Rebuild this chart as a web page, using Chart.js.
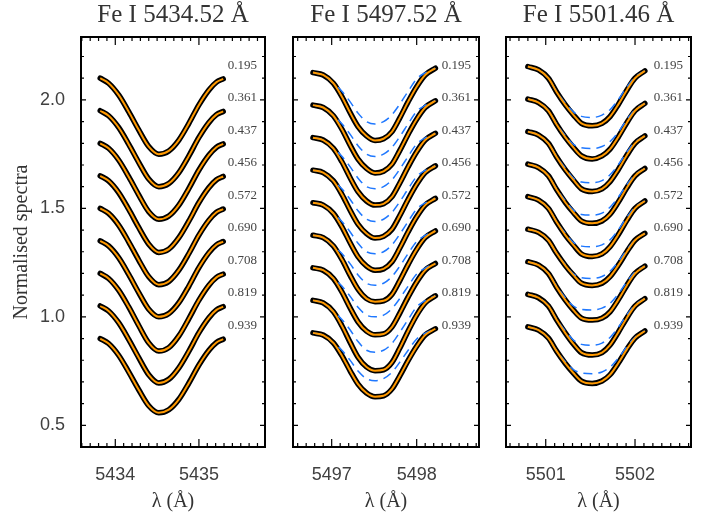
<!DOCTYPE html>
<html>
<head>
<meta charset="utf-8">
<script src="https://cdn.jsdelivr.net/npm/chart.js@4/dist/chart.umd.min.js"></script>
<style>
  body { margin: 0; background: #fff; }
  #wrap { position: relative; width: 711px; height: 517px; }
  #wrap canvas { position: absolute; left: 0; top: 0; }
</style>
</head>
<body>
<div id="wrap">
  <canvas id="p1" width="711" height="517"></canvas>
  <canvas id="p2" width="711" height="517"></canvas>
  <canvas id="p3" width="711" height="517"></canvas>
</div>
<script>
// labels of the nine spectra (top to bottom) and panel titles
const muLabels = ['0.195', '0.361', '0.437', '0.456', '0.572', '0.690', '0.708', '0.819', '0.939'];
const titles = ['Fe I 5434.52 Å', 'Fe I 5497.52 Å', 'Fe I 5501.46 Å'];

// Fe I 5434.52
const wave1 = [5433.82, 5433.92, 5434.04, 5434.16, 5434.28, 5434.40, 5434.52, 5434.64, 5434.76, 5434.88, 5435.00, 5435.12, 5435.21, 5435.29];
const fit1 = [
  [2.100, 2.077, 2.023, 1.946, 1.862, 1.785, 1.750, 1.765, 1.815, 1.892, 1.977, 2.046, 2.082, 2.097],
  [1.950, 1.927, 1.873, 1.796, 1.712, 1.635, 1.600, 1.615, 1.665, 1.742, 1.827, 1.896, 1.932, 1.947],
  [1.800, 1.777, 1.723, 1.646, 1.562, 1.485, 1.450, 1.465, 1.515, 1.592, 1.677, 1.746, 1.782, 1.797],
  [1.650, 1.627, 1.573, 1.496, 1.412, 1.335, 1.297, 1.312, 1.365, 1.442, 1.527, 1.596, 1.632, 1.647],
  [1.500, 1.477, 1.423, 1.346, 1.262, 1.185, 1.148, 1.163, 1.215, 1.292, 1.377, 1.446, 1.482, 1.497],
  [1.350, 1.327, 1.273, 1.196, 1.112, 1.035, 1.000, 1.015, 1.065, 1.142, 1.227, 1.296, 1.332, 1.347],
  [1.200, 1.177, 1.123, 1.046, 0.960, 0.880, 0.842, 0.858, 0.912, 0.992, 1.077, 1.146, 1.182, 1.197],
  [1.050, 1.027, 0.973, 0.896, 0.812, 0.733, 0.695, 0.712, 0.765, 0.842, 0.927, 0.996, 1.032, 1.047],
  [0.900, 0.877, 0.823, 0.746, 0.664, 0.590, 0.558, 0.572, 0.620, 0.695, 0.778, 0.846, 0.882, 0.897]
];

// Fe I 5497.52
const wave2 = [5496.78, 5496.90, 5497.02, 5497.12, 5497.22, 5497.31, 5497.41, 5497.51, 5497.61, 5497.71, 5497.80, 5497.90, 5498.00, 5498.10, 5498.22];
const fit2 = [
  [2.126, 2.115, 2.077, 2.015, 1.939, 1.877, 1.834, 1.813, 1.821, 1.854, 1.916, 1.992, 2.061, 2.115, 2.146],
  [1.976, 1.965, 1.927, 1.865, 1.789, 1.727, 1.684, 1.663, 1.671, 1.704, 1.766, 1.842, 1.911, 1.965, 1.996],
  [1.826, 1.815, 1.777, 1.715, 1.639, 1.577, 1.534, 1.515, 1.521, 1.554, 1.616, 1.692, 1.761, 1.815, 1.846],
  [1.676, 1.665, 1.627, 1.565, 1.489, 1.427, 1.384, 1.363, 1.371, 1.404, 1.466, 1.542, 1.611, 1.665, 1.696],
  [1.526, 1.515, 1.477, 1.415, 1.339, 1.277, 1.234, 1.215, 1.221, 1.254, 1.316, 1.392, 1.461, 1.515, 1.546],
  [1.376, 1.365, 1.327, 1.265, 1.189, 1.127, 1.084, 1.070, 1.074, 1.104, 1.166, 1.242, 1.311, 1.365, 1.396],
  [1.226, 1.215, 1.177, 1.115, 1.039, 0.977, 0.934, 0.917, 0.921, 0.954, 1.016, 1.092, 1.161, 1.215, 1.246],
  [1.076, 1.064, 1.024, 0.959, 0.880, 0.814, 0.769, 0.752, 0.756, 0.790, 0.855, 0.935, 1.008, 1.064, 1.097],
  [0.926, 0.916, 0.880, 0.821, 0.749, 0.690, 0.649, 0.632, 0.636, 0.668, 0.727, 0.799, 0.864, 0.916, 0.945]
];
const dash2 = [
  [2.126, 2.115, 2.077, 2.040, 1.990, 1.939, 1.900, 1.889, 1.900, 1.932, 1.980, 2.040, 2.097, 2.125, 2.146],
  [1.976, 1.965, 1.927, 1.890, 1.840, 1.789, 1.750, 1.739, 1.750, 1.782, 1.830, 1.890, 1.947, 1.975, 1.996],
  [1.826, 1.815, 1.777, 1.740, 1.690, 1.639, 1.600, 1.591, 1.600, 1.632, 1.680, 1.740, 1.797, 1.825, 1.846],
  [1.676, 1.665, 1.627, 1.590, 1.540, 1.489, 1.450, 1.439, 1.450, 1.482, 1.530, 1.590, 1.647, 1.675, 1.696],
  [1.526, 1.515, 1.477, 1.440, 1.390, 1.339, 1.300, 1.291, 1.300, 1.332, 1.380, 1.440, 1.497, 1.525, 1.546],
  [1.376, 1.365, 1.327, 1.292, 1.243, 1.193, 1.155, 1.146, 1.155, 1.186, 1.233, 1.292, 1.347, 1.375, 1.396],
  [1.226, 1.215, 1.177, 1.142, 1.093, 1.044, 1.008, 1.000, 1.008, 1.038, 1.084, 1.142, 1.197, 1.225, 1.246],
  [1.076, 1.064, 1.024, 0.988, 0.938, 0.886, 0.846, 0.837, 0.846, 0.878, 0.928, 0.988, 1.046, 1.075, 1.097],
  [0.926, 0.916, 0.880, 0.846, 0.798, 0.750, 0.715, 0.705, 0.715, 0.745, 0.790, 0.846, 0.898, 0.925, 0.945]
];

// Fe I 5501.46
const wave3 = [5500.80, 5500.92, 5501.03, 5501.12, 5501.22, 5501.31, 5501.40, 5501.52, 5501.63, 5501.72, 5501.81, 5501.91, 5502.00, 5502.11];
const fit3 = [
  [2.154, 2.138, 2.100, 2.038, 1.977, 1.931, 1.892, 1.881, 1.892, 1.923, 1.977, 2.046, 2.100, 2.134],
  [2.004, 1.988, 1.950, 1.888, 1.827, 1.781, 1.742, 1.728, 1.742, 1.773, 1.827, 1.896, 1.950, 1.984],
  [1.854, 1.838, 1.800, 1.738, 1.677, 1.631, 1.590, 1.578, 1.590, 1.623, 1.677, 1.746, 1.800, 1.834],
  [1.704, 1.688, 1.650, 1.588, 1.527, 1.481, 1.442, 1.431, 1.442, 1.473, 1.527, 1.596, 1.650, 1.684],
  [1.554, 1.538, 1.500, 1.438, 1.377, 1.331, 1.290, 1.278, 1.290, 1.323, 1.377, 1.446, 1.500, 1.534],
  [1.404, 1.389, 1.353, 1.294, 1.236, 1.192, 1.155, 1.145, 1.155, 1.185, 1.236, 1.301, 1.353, 1.385],
  [1.254, 1.238, 1.200, 1.138, 1.077, 1.031, 0.994, 0.985, 0.994, 1.023, 1.077, 1.146, 1.200, 1.234],
  [1.104, 1.088, 1.050, 0.988, 0.925, 0.875, 0.835, 0.824, 0.835, 0.870, 0.927, 0.996, 1.050, 1.084],
  [0.954, 0.939, 0.902, 0.843, 0.785, 0.741, 0.704, 0.693, 0.704, 0.733, 0.785, 0.851, 0.902, 0.935]
];
const dash3 = [
  [2.154, 2.138, 2.100, 2.040, 1.985, 1.945, 1.924, 1.919, 1.930, 1.955, 2.000, 2.060, 2.105, 2.134],
  [2.004, 1.988, 1.950, 1.890, 1.835, 1.795, 1.779, 1.776, 1.785, 1.808, 1.850, 1.910, 1.955, 1.984],
  [1.854, 1.838, 1.800, 1.740, 1.685, 1.640, 1.622, 1.618, 1.628, 1.655, 1.700, 1.760, 1.805, 1.834],
  [1.704, 1.688, 1.650, 1.590, 1.535, 1.492, 1.472, 1.469, 1.478, 1.505, 1.550, 1.610, 1.655, 1.684],
  [1.554, 1.538, 1.500, 1.440, 1.385, 1.343, 1.326, 1.323, 1.332, 1.355, 1.400, 1.460, 1.505, 1.534],
  [1.404, 1.389, 1.353, 1.295, 1.240, 1.198, 1.180, 1.177, 1.186, 1.210, 1.253, 1.310, 1.355, 1.385],
  [1.254, 1.238, 1.200, 1.142, 1.088, 1.050, 1.034, 1.031, 1.040, 1.062, 1.104, 1.162, 1.207, 1.234],
  [1.104, 1.088, 1.050, 0.990, 0.935, 0.893, 0.873, 0.869, 0.879, 0.905, 0.950, 1.010, 1.055, 1.084],
  [0.954, 0.939, 0.902, 0.845, 0.793, 0.757, 0.742, 0.738, 0.746, 0.768, 0.808, 0.863, 0.906, 0.935]
];

const SERIF = "'Liberation Serif', 'Times New Roman', serif";
const SANS = "'Liberation Sans', Arial, sans-serif";
const ORANGE = '#ff9900';
const BLUE = '#1f78ff';

const isWhole = v => Math.abs(v - Math.round(v)) < 1e-6;
const isHalf = v => Math.abs(v * 2 - Math.round(v * 2)) < 1e-6;

// tenth-step ticks, labelled only at majors
function tenthTicks(s) {
  const t = [];
  for (let k = Math.ceil(s.min * 10 - 1e-6); k <= Math.floor(s.max * 10 + 1e-6); k++) t.push({ value: k / 10 });
  s.ticks = t;
}

// frame, inward ticks on all four sides, and the mu labels
const frameTicks = {
  id: 'frameTicks',
  afterDatasetsDraw(chart) {
    const { ctx, chartArea: a, scales: { x, y } } = chart;
    ctx.save();
    ctx.strokeStyle = '#000';
    ctx.lineWidth = 1.2;
    ctx.beginPath();
    x.ticks.forEach(t => {
      const px = x.getPixelForValue(t.value);
      const len = isWhole(t.value) ? 8 : 4;
      ctx.moveTo(px, a.bottom); ctx.lineTo(px, a.bottom - len);
      ctx.moveTo(px, a.top); ctx.lineTo(px, a.top + len);
    });
    y.ticks.forEach(t => {
      const py = y.getPixelForValue(t.value);
      const len = isHalf(t.value) ? 5 : 3;
      ctx.moveTo(a.left, py); ctx.lineTo(a.left + len, py);
      ctx.moveTo(a.right, py); ctx.lineTo(a.right - len, py);
    });
    ctx.stroke();
    ctx.lineWidth = 2;
    ctx.strokeRect(a.left, a.top, a.right - a.left, a.bottom - a.top);

    ctx.font = '13px ' + SERIF;
    ctx.fillStyle = '#444';
    ctx.textAlign = 'right';
    ctx.textBaseline = 'middle';
    muLabels.forEach((s, k) => ctx.fillText(s, a.right - 8, y.getPixelForValue(2.16 - 0.15 * k)));
    ctx.restore();
  }
};

const panels = [
  { id: 'p1', wave: wave1, fit: fit1, dash: null, xMin: 5433.59, xMax: 5435.79, left: 81, right: 265, first: true },
  { id: 'p2', wave: wave2, fit: fit2, dash: dash2, xMin: 5496.545, xMax: 5498.733, left: 293, right: 479 },
  { id: 'p3', wave: wave3, fit: fit3, dash: dash3, xMin: 5500.555, xMax: 5502.627, left: 506, right: 691 }
];

const pts = (wave, vals) => wave.map((x, i) => ({ x, y: vals[i] }));

panels.forEach((p, n) => {
  const datasets = [];
  p.fit.forEach(v => datasets.push({
    data: pts(p.wave, v), borderColor: '#000', borderWidth: 5.5, order: 3,
    pointRadius: 0, cubicInterpolationMode: 'monotone', borderCapStyle: 'round'
  }));
  if (p.dash) p.dash.forEach(v => datasets.push({
    data: pts(p.wave, v), borderColor: BLUE, borderWidth: 1.5, borderDash: [9, 6], order: 2,
    pointRadius: 0, cubicInterpolationMode: 'monotone'
  }));
  p.fit.forEach(v => datasets.push({
    data: pts(p.wave, v), borderColor: ORANGE, borderWidth: 2, order: 1,
    pointRadius: 0, cubicInterpolationMode: 'monotone'
  }));

  const padLeft = p.first ? 10 : p.left;
  new Chart(document.getElementById(p.id), {
    type: 'line',
    data: { datasets },
    plugins: [frameTicks],
    options: {
      responsive: false,
      animation: false,
      events: [],
      layout: { padding: { left: padLeft, right: 711 - p.right, top: 0, bottom: 0 } },
      plugins: {
        legend: { display: false },
        tooltip: { enabled: false },
        title: {
          display: true, text: titles[n], fullSize: false, color: '#333',
          font: { family: SERIF, size: 25, weight: 'normal' },
          padding: { top: 0.5, bottom: 6.5 }
        }
      },
      scales: {
        x: {
          type: 'linear', min: p.xMin, max: p.xMax,
          afterBuildTicks: tenthTicks,
          afterFit: s => { s.height = 70; },
          grid: { display: false }, border: { display: false },
          ticks: {
            autoSkip: false, maxRotation: 0, padding: 9, color: '#404040',
            font: { family: SANS, size: 18 },
            callback: v => isWhole(v) ? String(Math.round(v)) : ''
          },
          title: {
            display: true, text: 'λ (Å)', color: '#333',
            font: { family: SERIF, size: 20 }, padding: { top: 0, bottom: 3 }
          }
        },
        y: {
          type: 'linear', min: 0.40, max: 2.29,
          afterBuildTicks: tenthTicks,
          afterFit: s => { s.width = p.left - padLeft; },
          grid: { display: false }, border: { display: false },
          ticks: {
            display: !!p.first, autoSkip: false, padding: 8, color: '#404040',
            font: { family: SANS, size: 18 },
            callback: v => isHalf(v) ? v.toFixed(1) : ''
          },
          title: {
            display: !!p.first, text: 'Normalised spectra', color: '#333',
            font: { family: SERIF, size: 20 }, padding: { top: 0, bottom: 0 }
          }
        }
      }
    }
  });
});
</script>
</body>
</html>
